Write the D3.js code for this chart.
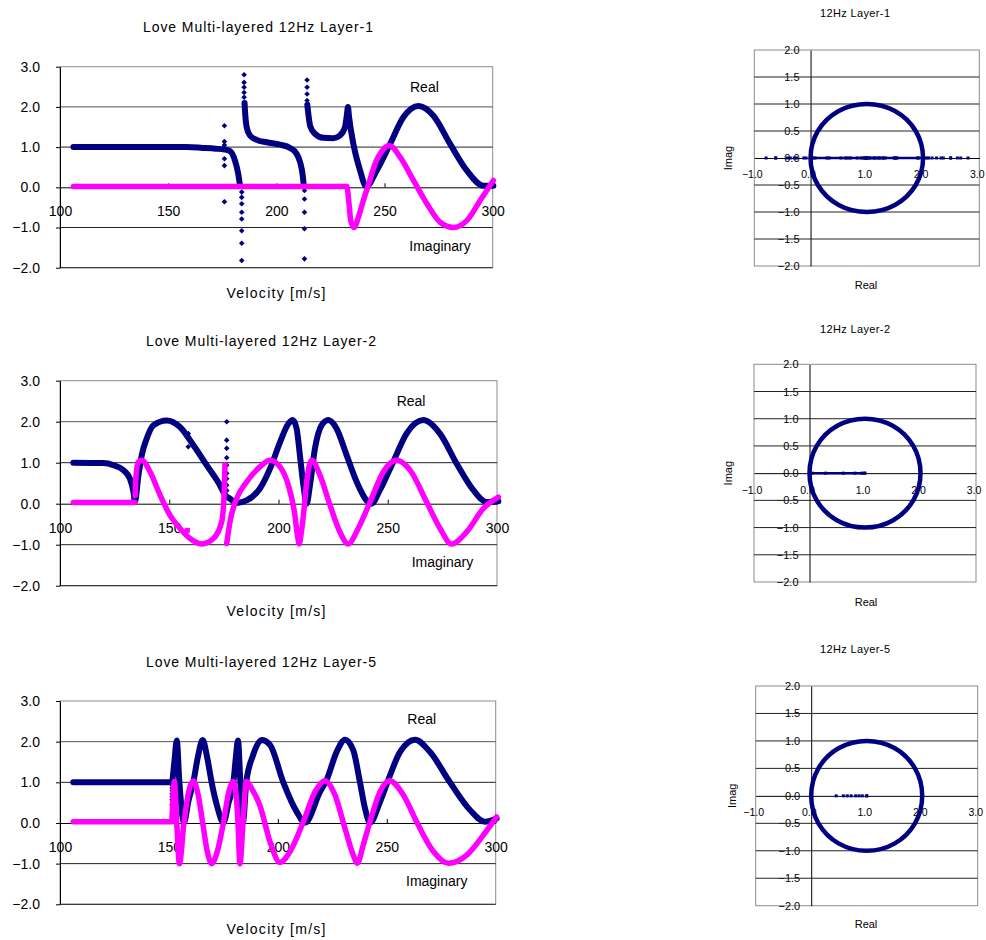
<!DOCTYPE html>
<html>
<head>
<meta charset="utf-8">
<script src="https://cdn.jsdelivr.net/npm/d3@7"></script>
<style>
  body { margin: 0; background: #fff; }
  svg text { font-family: "Liberation Sans", Arial, sans-serif; fill: #000; }
</style>
</head>
<body>
<svg id="chart" width="986" height="940"></svg>
<script>
var navy = "#000080", pink = "#ff00ff";

// ---- data: [velocity m/s, value] ----
// Layer-1
var l1Real = [
  [[106.2,1.0],[120,1.0],[140,1.0],[158.6,1.0],[166,0.98],[172,0.96],[176,0.94],[178.6,0.9],[180.9,0.66],[182.4,0.33],[183.2,0.04]],
  [[185.3,2.1],[185.5,1.91],[186.3,1.49],[187.8,1.29],[190.9,1.18],[195.6,1.12],[201.7,1.06],[206.3,0.98],[209.4,0.83],[211,0.62],[212.2,0.29],[212.6,0.08]],
  [[214.3,2.05],[214.6,1.91],[215.6,1.53],[217.9,1.33],[221.7,1.23],[226.3,1.22],[229.4,1.29],[231.7,1.49],[232.6,1.8],[233.1,2.0],[233.6,1.75],[235.6,1.08],[238.7,0.42],[241.5,0.02],[246.4,0.42],[252.6,1.08],[258.7,1.74],[265.7,2.02],[272.6,1.78],[280.3,1.08],[288,0.42],[295.7,0.04],[300.3,0.04]]
];
var l1Imag = [
  [[106.2,0.02],[232.6,0.02]],
  [[232.9,-0.05],[233.4,-0.3],[234.4,-0.83],[235.9,-1.0],[237.9,-0.75],[240.2,-0.33],[242.5,0.05],[245.6,0.58],[249.2,0.93],[252.3,1.04],[257.2,0.75],[263.4,0.17],[269.6,-0.41],[275.7,-0.87],[281.8,-1.0],[288,-0.83],[294.2,-0.33],[300.3,0.17]]
];
var l1Dots = [
  [176,1.53],[176,1.14],[176,1.05],[176,0.71],[176,0.54],[176,-0.36],
  [184,-0.12],[184,-0.25],[184,-0.41],[184,-0.62],[184,-0.79],[184,-1.08],[184,-1.39],[184,-1.82],
  [185.1,2.8],[185.1,2.61],[185.1,2.49],[185.1,2.36],[185.1,2.24],
  [213,-0.08],[213,-0.29],[213,-0.62],[213,-1.03],[213,-1.78],
  [214.2,2.67],[214.2,2.49],[214.2,2.32],[214.2,2.16]
];
var l1PinkDots = [];
var l1Onset = 232.5;

// Layer-2
var l2Real = [
  [[106.1,1.0],[119.8,0.99],[124.4,0.94],[129,0.82],[132,0.61],[133.6,0.29],[134.3,0.05],[135.9,0.69],[137.4,1.18],[139.7,1.59],[142.7,1.91],[148.8,2.03],[154.9,1.87],[161,1.43],[167.1,0.94],[173.2,0.45],[175.5,0.22],[177.8,0.12],[180.9,0.02],[185.4,0.08],[191.5,0.37],[196.8,0.94],[200.7,1.5],[204.5,1.95],[206.5,2.04],[208.3,1.83],[209.8,1.18],[211.4,0.45],[212.9,0.0],[214.4,0.45],[216.7,1.35],[219.7,1.91],[222.8,2.04],[226.6,1.83],[231.2,1.18],[235.8,0.53],[240.3,0.08],[242.6,0.0],[246.4,0.33],[252.5,1.02],[258.6,1.71],[266.3,2.04],[273.9,1.71],[281.5,0.98],[289.2,0.33],[295.3,0.04],[300.6,0.06]]
];
var l2Imag = [
  [[106.1,0.03],[134.3,0.03]],
  [[134.4,0.2],[134.8,0.69],[135.9,1.02],[137.4,1.06],[141.2,0.78],[145.8,0.21],[150.3,-0.28],[154.9,-0.6],[159.5,-0.85],[164.8,-0.98],[170.2,-0.85],[174,-0.44],[175,0.1],[175.5,0.95]],
  [[176.3,-0.97],[177.8,-0.44],[180.9,0.13],[185.4,0.53],[191.5,0.9],[196.1,1.06],[200.7,0.9],[204.5,0.45],[207.5,-0.28],[208.6,-0.75],[209.5,-0.98],[210.4,-0.72],[211.4,-0.28],[212.9,0.53],[215.2,1.06],[219,0.69],[223.6,-0.04],[228.1,-0.69],[231.9,-0.98],[236.5,-0.6],[241.9,0.04],[248,0.78],[254.1,1.06],[260.2,0.82],[267.8,0.04],[273.9,-0.6],[279.2,-0.98],[286.1,-0.69],[293.7,-0.12],[300.6,0.16]]
];
var l2Dots = [
  [176.3,2.0],[176.3,1.55],[176.3,1.35],[176.3,1.12],[176.3,0.94],[176.3,0.74],[176.3,0.61],[176.3,0.45],[176.3,0.32],
  [158.7,1.71],[158.7,1.39]
];
var l2PinkDots = [[158.3,-0.65]];
var l2Onset = 134.35;

// Layer-5
var l5Real = [
  [[106.1,1.0],[151.3,1.0],[152.5,1.5],[153.6,2.03],[154.8,1.0],[156.9,0.02],[159,0.55],[161.2,1.0],[163.2,1.6],[165.5,2.04],[167.6,1.6],[169.6,1.0],[172.2,0.4],[175,0.01],[177.4,0.5],[179.6,1.0],[180.7,1.6],[181.7,2.03],[182.8,1.0],[184,0.03],[185.5,1.0],[188.5,1.65],[192.6,2.04],[196.4,1.92],[202.5,1.0],[208.6,0.28],[212.5,0.01],[219.4,0.77],[222.4,1.06],[227,1.75],[230.8,2.05],[234.6,1.79],[237.7,1.0],[240,0.36],[242.3,0.01],[246.9,0.52],[250.7,1.06],[256.1,1.75],[263,2.05],[269.8,1.75],[279,1.0],[288.2,0.32],[295.1,0.03],[300.4,0.11]]
];
var l5Imag = [
  [[106.1,0.03],[151.3,0.03]],
  [[151.4,0.1],[151.8,0.55],[152.5,1.02],[153.6,0.0],[154.8,-1.0],[156.9,0.0],[159,0.75],[161.2,1.03],[163.4,0.7],[165.5,0.0],[167.6,-0.7],[169.6,-1.0],[172.2,-0.7],[175,0.0],[177.3,0.72],[179.6,1.02],[181,0.6],[181.7,0.0],[182.6,-1.0],[184,0.0],[185.5,1.02],[188.5,0.8],[191.8,0.42],[196.4,-0.46],[201,-0.97],[205.6,-0.7],[211.7,0.03],[217.1,0.77],[221.6,1.04],[226.2,0.69],[230.8,-0.13],[234.6,-0.79],[236.5,-0.99],[239.2,-0.54],[242.3,0.03],[246.9,0.77],[251.2,1.04],[257.6,0.69],[263.7,0.03],[271.4,-0.7],[278.3,-0.99],[286.7,-0.79],[294.3,-0.3],[300.4,0.15]]
];
var l5Dots = [[151.4,0.45],[151.45,0.58],[151.5,0.65],[151.5,0.72],[151.55,0.8],[151.55,0.86],[151.6,0.92]];
var l5PinkDots = [];
var l5Onset = 151.65;

// ring traced in the Real/Imag plots (same for all three layers)
var ringRe = [0, 0.13, 0.5, 1, 1.5, 1.87, 2, 1.87, 1.5, 1, 0.5, 0.13];
var ringIm = [0, 0.5, 0.87, 1, 0.87, 0.5, 0, -0.5, -0.87, -1, -0.87, -0.5];

var velTicks = [100, 150, 200, 250, 300];
var valTicks = [3, 2, 1, 0, -1, -2];
var reTicks = [-1, 0, 1, 2, 3];
var imTicks = [2, 1.5, 1, 0.5, 0, -0.5, -1, -1.5, -2];

var charts = [
  { title: "Love Multi-layered 12Hz Layer-1", polar: "12Hz Layer-1",
    real: l1Real, imag: l1Imag, dots: l1Dots, pinkDots: l1PinkDots, onset: l1Onset,
    L: {l: 60, r: 492.7, t: 66.7, b: 267.7, ty: 31.5, tx: 258, rx: 410, ry: 91.7, ix: 409.3, iy: 250.5, vy: 297.7},
    R: {l: 754.3, r: 979.3, t: 50, b: 266, ty: 16.7, ry: 289.3, ix: 728} },
  { title: "Love Multi-layered 12Hz Layer-2", polar: "12Hz Layer-2",
    real: l2Real, imag: l2Imag, dots: l2Dots, pinkDots: l2PinkDots, onset: l2Onset,
    L: {l: 60, r: 497, t: 380.7, b: 585.7, ty: 345.7, tx: 261, rx: 396.7, ry: 406, ix: 411.7, iy: 566.5, vy: 616},
    R: {l: 754, r: 976, t: 364.3, b: 582, ty: 332.7, ry: 605.7, ix: 728} },
  { title: "Love Multi-layered 12Hz Layer-5", polar: "12Hz Layer-5",
    real: l5Real, imag: l5Imag, dots: l5Dots, pinkDots: l5PinkDots, onset: l5Onset,
    L: {l: 60, r: 495.7, t: 701, b: 904.3, ty: 666.5, tx: 261, rx: 407.3, ry: 724, ix: 406, iy: 885.5, vy: 934},
    R: {l: 755.7, r: 977.7, t: 686, b: 905.7, ty: 653.3, ry: 928.3, ix: 731.7} }
];

var svg = d3.select("#chart");
svg.append("rect").attr("width", 986).attr("height", 940).attr("fill", "#fff");
var fmt = d3.format(".1f");
var diamond = d3.symbol().type(d3.symbolDiamond2).size(20);

function drawLeft(c) {
  var p = c.L;
  var x = d3.scaleLinear().domain([100, 300]).range([p.l, p.r]);
  var y = d3.scaleLinear().domain([-2, 3]).range([p.b, p.t]);
  var g = svg.append("g");

  g.append("rect")
    .attr("x", p.l).attr("y", p.t)
    .attr("width", p.r - p.l).attr("height", p.b - p.t)
    .attr("fill", "none").attr("stroke", "#8c8c8c");

  g.selectAll(".grid").data([2, 1, -1, -2]).enter().append("line")
    .attr("x1", p.l).attr("x2", p.r)
    .attr("y1", function(d) { return y(d) }).attr("y2", function(d) { return y(d) })
    .attr("stroke", function(d) { return d == 2 ? "#555" : "#222" });

  var ya = g.append("g").attr("transform", "translate(" + p.l + ",0)")
    .call(d3.axisLeft(y).tickValues(valTicks).tickSizeInner(4).tickSizeOuter(0).tickPadding(16).tickFormat(fmt));
  var xa = g.append("g").attr("transform", "translate(0," + y(0) + ")")
    .call(d3.axisBottom(x).tickValues(velTicks).tickSizeInner(-4).tickSizeOuter(0).tickPadding(19));
  [ya, xa].forEach(function(a) {
    a.selectAll("path,line").attr("stroke", "#000");
    a.selectAll("text").style("font-size", "14px").attr("fill", "#000");
  });

  var line = d3.line()
    .x(function(d) { return x(d[0]) })
    .y(function(d) { return y(d[1]) })
    .curve(d3.curveMonotoneX);

  g.selectAll(".re").data(c.real).enter().append("path")
    .attr("d", line).attr("fill", "none").attr("stroke", navy)
    .attr("stroke-width", 6).attr("stroke-linecap", "round").attr("stroke-linejoin", "round");
  g.selectAll(".dot").data(c.dots).enter().append("path")
    .attr("d", diamond).attr("fill", navy)
    .attr("transform", function(d) { return "translate(" + x(d[0]) + "," + y(d[1]) + ")" });

  g.selectAll(".im").data(c.imag).enter().append("path")
    .attr("d", line).attr("fill", "none").attr("stroke", pink)
    .attr("stroke-width", 5.5).attr("stroke-linecap", "round").attr("stroke-linejoin", "round");
  g.selectAll(".pdot").data(c.pinkDots).enter().append("rect")
    .attr("x", function(d) { return x(d[0]) - 2.5 }).attr("y", function(d) { return y(d[1]) - 2.5 })
    .attr("width", 5).attr("height", 5).attr("fill", pink);

  g.append("text").attr("x", p.tx).attr("y", p.ty).attr("text-anchor", "middle")
    .attr("textLength", 230).style("font-size", "14px").text(c.title);
  g.append("text").attr("x", p.rx).attr("y", p.ry).style("font-size", "14px").text("Real");
  g.append("text").attr("x", p.ix).attr("y", p.iy).style("font-size", "14px").text("Imaginary");
  g.append("text").attr("x", 276).attr("y", p.vy).attr("text-anchor", "middle")
    .attr("textLength", 99).style("font-size", "14px").text("Velocity [m/s]");
}

function drawRight(c) {
  var p = c.R;
  var x = d3.scaleLinear().domain([-1, 3]).range([p.l, p.r]);
  var y = d3.scaleLinear().domain([-2, 2]).range([p.b, p.t]);
  var g = svg.append("g");

  g.append("rect")
    .attr("x", p.l).attr("y", p.t)
    .attr("width", p.r - p.l).attr("height", p.b - p.t)
    .attr("fill", "none").attr("stroke", "#8c8c8c");

  var ya = g.append("g").attr("transform", "translate(" + x(0) + ",0)")
    .call(d3.axisLeft(y).tickValues(imTicks).tickSize(0).tickPadding(11).tickFormat(fmt));
  var xa = g.append("g").attr("transform", "translate(0," + y(0) + ")")
    .call(d3.axisBottom(x).tickValues(reTicks).tickSize(0).tickPadding(13).tickFormat(fmt));
  [ya, xa].forEach(function(a) {
    a.selectAll("path,line").attr("stroke", "#000");
  });
  ya.selectAll("text").style("font-size", "11px").attr("fill", "#000");
  xa.selectAll("text").style("font-size", "10.5px").attr("fill", "#000").attr("dx", -2.5);

  g.selectAll(".grid").data(imTicks.filter(function(d) { return Math.abs(d) < 2 && d != 0 })).enter().append("line")
    .attr("x1", p.l).attr("x2", p.r)
    .attr("y1", function(d) { return y(d) }).attr("y2", function(d) { return y(d) })
    .attr("stroke", "#222");

  // points before the onset stay on the real axis
  var axisVals = [];
  c.real.forEach(function(seg) {
    seg.forEach(function(d) { if (d[0] < c.onset) axisVals.push(d[1]) });
  });
  var axisDots = c.dots.filter(function(d) { return d[0] < c.onset && d[1] > -1 && d[1] < 3 })
    .map(function(d) { return d[1] });
  var ext = d3.extent(axisVals);
  g.append("line")
    .attr("x1", x(ext[0])).attr("x2", x(ext[1]))
    .attr("y1", y(0)).attr("y2", y(0))
    .attr("stroke", navy).attr("stroke-width", 2.5);
  g.selectAll(".adot").data(axisVals.concat(axisDots)).enter().append("rect")
    .attr("x", function(d) { return x(d) - 1.5 }).attr("y", y(0) - 1.5)
    .attr("width", 3).attr("height", 3).attr("fill", navy);

  var ring = d3.zip(ringRe, ringIm);
  g.append("path").datum(ring)
    .attr("d", d3.line()
      .x(function(d) { return x(d[0]) })
      .y(function(d) { return y(d[1]) })
      .curve(d3.curveCatmullRomClosed.alpha(0.5)))
    .attr("fill", "none").attr("stroke", navy).attr("stroke-width", 4.5);

  g.append("text").attr("x", 855).attr("y", p.ty).attr("text-anchor", "middle")
    .attr("textLength", 70).style("font-size", "11px").text(c.polar);
  g.append("text").attr("x", 866).attr("y", p.ry).attr("text-anchor", "middle")
    .style("font-size", "11px").text("Real");
  g.append("text").attr("transform", "translate(" + p.ix + "," + y(0) + ") rotate(-90)")
    .attr("text-anchor", "middle").attr("dy", "0.35em").style("font-size", "11px").text("Imag");
}

charts.forEach(function(c) {
  drawLeft(c);
  drawRight(c);
});
</script>
</body>
</html>
